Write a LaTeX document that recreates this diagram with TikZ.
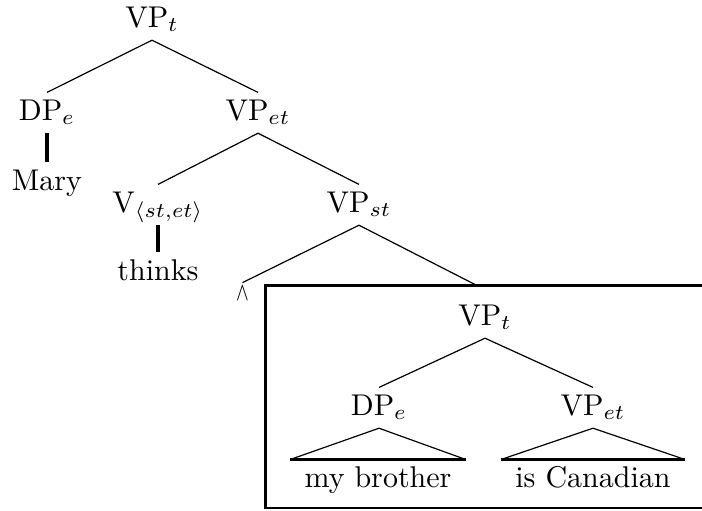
\documentclass[tikz,border=0pt]{standalone}
\usepackage{graphicx}
\begin{document}
\begin{tikzpicture}[x=0.3333pt, y=-0.3333pt,
  tn/.style={anchor=base, text height=6.8pt, text depth=2pt, inner ysep=2.2pt, inner xsep=4.5pt},
  br/.style={line width=0.4pt},
  unary/.style={line width=1.1pt},
  tribase/.style={line width=0.8pt},
  boxline/.style={line width=0.75pt}]
\useasboundingbox (0,0) rectangle (702,510);
% nodes
\node[tn] (t0) at (152,27) {VP$_t$};
\node[tn] (d1) at (47,120) {DP$_e$};
\node[tn] (v1) at (258,120) {VP$_{et}$};
\node[tn] (mary) at (47,190) {Mary};
\node[tn] (vv) at (158,212) {V$_{\langle st,et\rangle}$};
\node[tn] (vst) at (359,212) {VP$_{st}$};
\node[tn] (thinks) at (158,280) {thinks};
\node[anchor=base, text height=4.6pt, text depth=0pt, inner ysep=1pt] (wedge) at (242.5,300) {\scalebox{1}[1.7]{$\scriptscriptstyle\wedge$}};
\node[tn] (it) at (485,325) {VP$_t$};
\node[tn] (id) at (379,415) {DP$_e$};
\node[tn] (iv) at (593,415) {VP$_{et}$};
\node[tn] (mb) at (378,487) {my brother};
\node[tn] (ic) at (593,487) {is Canadian};
% box: its right side lies beyond the picture's edge
\draw[boxline] (702,285.5) -- (265.5,285.5) -- (265.5,508) -- (702,508);
\coordinate (boxtop) at (477,285.5);
% branches
\draw[br] (d1.north) -- (t0.south) -- (v1.north);
\draw[unary] (d1.south) -- (mary.north);
\draw[br] (vv.north) -- (v1.south) -- (vst.north);
\draw[unary] (vv.south) -- (thinks.north);
\draw[br] (wedge.north) -- (vst.south) -- (boxtop);
\draw[br] (id.north) -- (it.south) -- (iv.north);
% triangles
\draw[br] (mb.north west) -- (id.south) -- (mb.north east);
\draw[tribase] (mb.north west) -- (mb.north east);
\draw[br] (ic.north west) -- (iv.south) -- (ic.north east);
\draw[tribase] (ic.north west) -- (ic.north east);
\end{tikzpicture}
\end{document}
